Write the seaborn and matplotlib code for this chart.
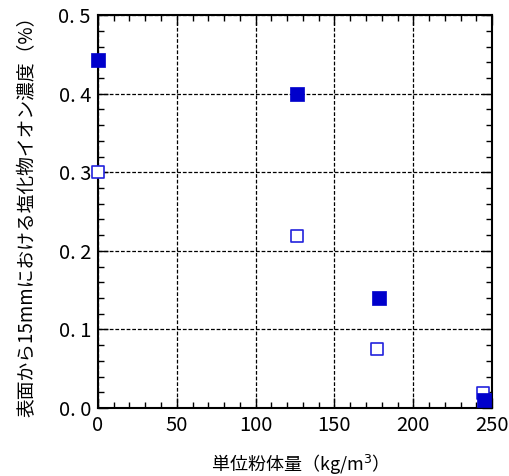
import matplotlib
matplotlib.use("Agg")
import matplotlib.pyplot as plt
import seaborn as sns
import pandas as pd
from matplotlib.ticker import MultipleLocator

sns.set_theme(style="white")
plt.rcParams['font.family'] = ['Noto Sans CJK JP', 'DejaVu Sans']
plt.rcParams['mathtext.fontset'] = 'dejavusans'

filled_x = [0, 126, 178, 245]
filled_y = [0.443, 0.400, 0.140, 0.010]
open_x = [0, 126, 177, 244]
open_y = [0.300, 0.219, 0.075, 0.019]

df_f = pd.DataFrame({"x": filled_x, "y": filled_y})
df_o = pd.DataFrame({"x": open_x, "y": open_y})

fig = plt.figure(figsize=(5.10, 4.76), dpi=100)
ax = fig.add_axes([0.192, 0.143, 0.773, 0.825])

sns.scatterplot(data=df_o, x="x", y="y", ax=ax, marker="s", s=65,
                facecolor="white", edgecolor="#2222dd", linewidth=1.2,
                clip_on=False, zorder=3)
sns.scatterplot(data=df_f, x="x", y="y", ax=ax, marker="s", s=100,
                color="#0000cc", edgecolor="#0000cc", linewidth=0.5,
                clip_on=False, zorder=4)

ax.set_xlim(0, 250)
ax.set_ylim(0, 0.5)
ax.xaxis.set_major_locator(MultipleLocator(50))
ax.xaxis.set_minor_locator(MultipleLocator(10))
ax.yaxis.set_major_locator(MultipleLocator(0.1))
ax.yaxis.set_minor_locator(MultipleLocator(0.02))
ax.yaxis.set_major_formatter(matplotlib.ticker.FuncFormatter(lambda v, p: f"{v:.1f}".replace(".", ". ")))
ax.grid(True, which="major", color="black", linestyle=(0, (3, 1.5)), linewidth=0.9)
ax.tick_params(which="both", direction="in", top=True, right=True,
               bottom=True, left=True, color="black", labelsize=14.5, labelcolor="black")
ax.tick_params(which="major", length=7, width=1)
ax.tick_params(which="minor", length=4, width=1)
ax.tick_params(axis="x", which="major", pad=5)
ax.tick_params(axis="y", which="major", pad=5)
for s in ax.spines.values():
    s.set_color("black")
    s.set_linewidth(1.5)

ax.set_xlabel("単位粉体量（kg/m$^3$）", fontsize=13, labelpad=12, color="black")
ax.set_ylabel("表面から15mmにおける塩化物イオン濃度（%）", fontsize=13.5, labelpad=15, color="black")

fig.savefig("out.png", dpi=100)
